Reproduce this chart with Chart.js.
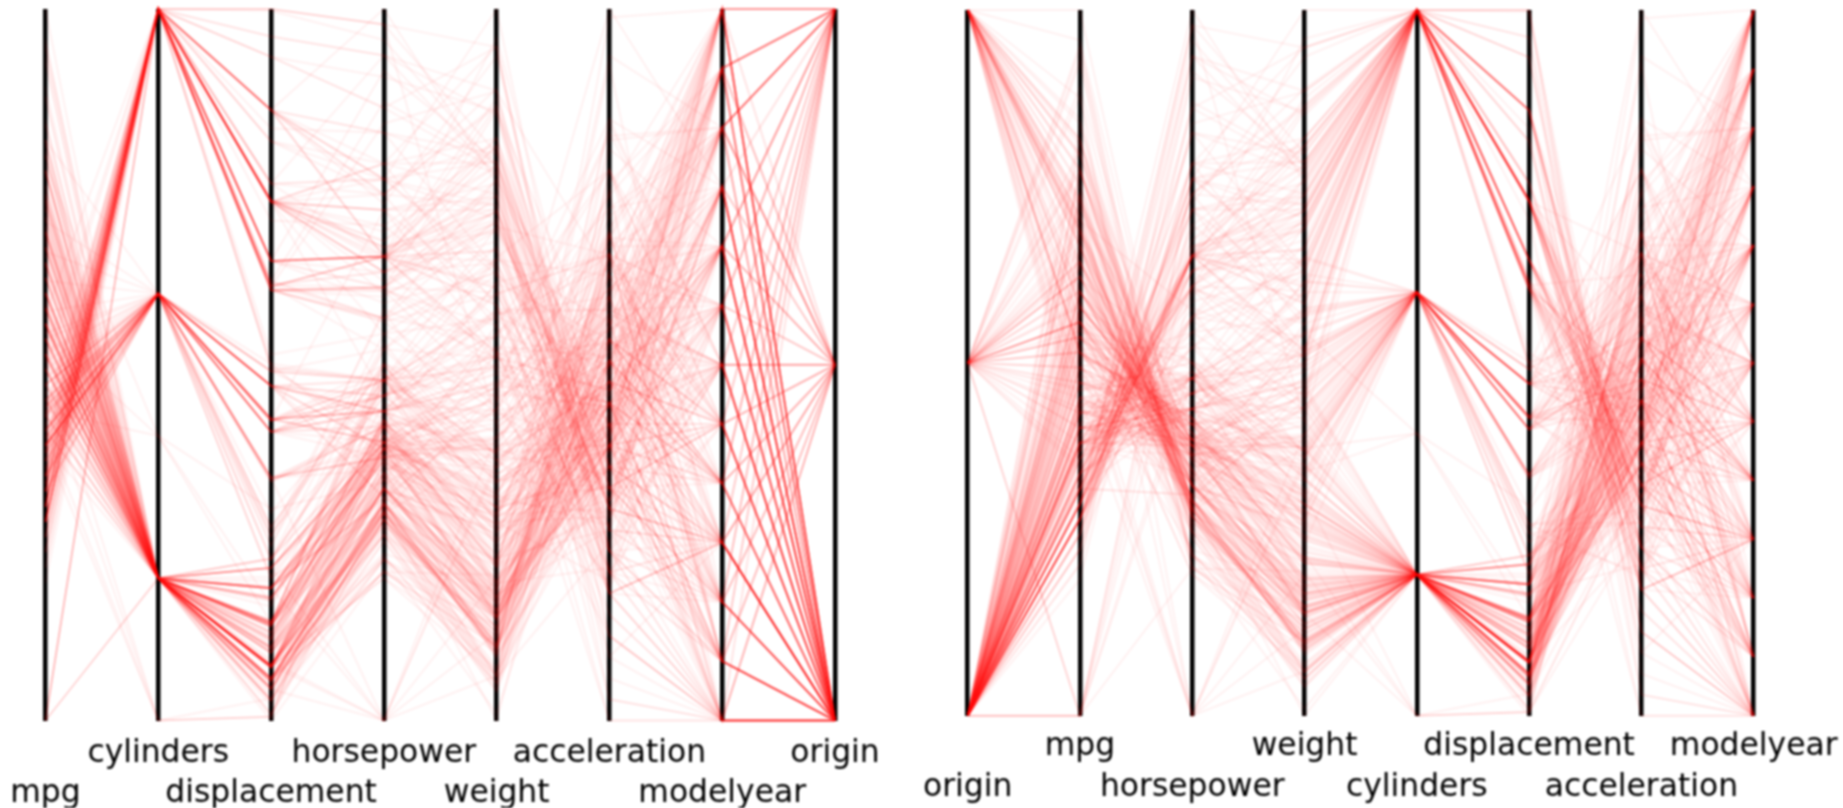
<!DOCTYPE html>
<html><head><meta charset="utf-8">
<script src="https://cdn.jsdelivr.net/npm/chart.js@4/dist/chart.umd.min.js"></script>
<style>
html,body{margin:0;padding:0;background:#fff;width:1843px;height:808px;overflow:hidden}
.box{position:absolute;top:0;height:808px}
canvas{filter:blur(1px)}
</style></head><body>
<div class="box" style="left:0;width:915px"><canvas id="a"></canvas></div>
<div class="box" style="left:915px;width:928px"><canvas id="b"></canvas></div>
<script>
// columns of every record: mpg, cylinders, displacement, horsepower, weight, acceleration, modelyear, origin
// a missing mpg or horsepower sits at 0, at the foot of its axis, as in the reference
const columns=['mpg','cylinders','displacement','horsepower','weight','acceleration','modelyear','origin'];
const leftAxes=['mpg','cylinders','displacement','horsepower','weight','acceleration','modelyear','origin'];
const rightAxes=['origin','mpg','horsepower','weight','cylinders','displacement','acceleration','modelyear'];
const cars70=[[18,8,307,130,3504,12,70,1],[15,8,350,165,3693,11.5,70,1],[18,8,318,150,3436,11,70,1],[16,8,304,150,3433,12,70,1],[17,8,302,140,3449,10.5,70,1],[15,8,429,198,4341,10,70,1],[14,8,454,220,4354,9,70,1],[14,8,440,215,4312,8.5,70,1],[14,8,455,225,4425,10,70,1],[15,8,390,190,3850,8.5,70,1],[0,4,133,115,3090,17.5,70,2],[0,8,350,165,4142,11.5,70,1],[0,8,351,153,4034,11,70,1],[0,8,383,175,4166,10.5,70,1],[0,8,360,175,3850,11,70,1],[15,8,383,170,3563,10,70,1],[14,8,340,160,3609,8,70,1],[0,8,302,140,3353,8,70,1],[15,8,400,150,3761,9.5,70,1],[14,8,455,225,3086,10,70,1],[24,4,113,95,2372,15,70,3],[22,6,198,95,2833,15.5,70,1],[18,6,199,97,2774,15.5,70,1],[21,6,200,85,2587,16,70,1],[27,4,97,88,2130,14.5,70,3],[26,4,97,46,1835,20.5,70,2],[25,4,110,87,2672,17.5,70,2],[24,4,107,90,2430,14.5,70,2],[25,4,104,95,2375,17.5,70,2],[26,4,121,113,2234,12.5,70,2],[21,6,199,90,2648,15,70,1],[10,8,360,215,4615,14,70,1],[10,8,307,200,4376,15,70,1],[11,8,318,210,4382,13.5,70,1],[9,8,304,193,4732,18.5,70,1]];
const cars71=[[27,4,97,88,2130,14.5,71,3],[28,4,140,90,2264,15.5,71,1],[25,4,113,95,2228,14,71,3],[25,4,98,0,2046,19,71,1],[0,4,97,48,1978,20,71,2],[19,6,232,100,2634,13,71,1],[16,6,225,105,3439,15.5,71,1],[17,6,250,100,3329,15.5,71,1],[19,6,250,88,3302,15.5,71,1],[18,6,232,100,3288,15.5,71,1],[14,8,350,165,4209,12,71,1],[14,8,400,175,4464,11.5,71,1],[14,8,351,153,4154,13.5,71,1],[14,8,318,150,4096,13,71,1],[12,8,383,180,4955,11.5,71,1],[13,8,400,170,4746,12,71,1],[13,8,400,175,5140,12,71,1],[18,6,258,110,2962,13.5,71,1],[22,4,140,72,2408,19,71,1],[19,6,250,100,3282,15,71,1],[18,6,250,88,3139,14.5,71,1],[23,4,122,86,2220,14,71,1],[28,4,116,90,2123,14,71,2],[30,4,79,70,2074,19.5,71,2],[30,4,88,76,2065,14.5,71,2],[31,4,71,65,1773,19,71,3],[35,4,72,69,1613,18,71,3],[27,4,97,60,1834,19,71,2],[26,4,91,70,1955,20.5,71,1]];
const cars72=[[24,4,113,95,2278,15.5,72,3],[25,4,97.5,80,2126,17,72,1],[23,4,97,54,2254,23.5,72,2],[20,4,140,90,2408,19.5,72,1],[21,4,122,86,2226,16.5,72,1],[13,8,350,165,4274,12,72,1],[14,8,400,175,4385,12,72,1],[15,8,318,150,4135,13.5,72,1],[14,8,351,153,4129,13,72,1],[17,8,304,150,3672,11.5,72,1],[11,8,429,208,4633,11,72,1],[13,8,350,155,4502,13.5,72,1],[12,8,350,160,4456,13.5,72,1],[13,8,400,190,4422,12.5,72,1],[19,3,70,97,2330,13.5,72,3],[15,8,304,150,3892,12.5,72,1],[13,8,307,130,4098,14,72,1],[13,8,302,140,4294,16,72,1],[14,8,318,150,4077,14,72,1],[18,4,121,112,2933,14.5,72,2],[22,4,121,76,2511,18,72,2],[21,4,120,87,2979,19.5,72,2],[26,4,96,69,2189,18,72,2],[22,4,122,86,2395,16,72,1],[28,4,97,92,2288,17,72,3],[23,4,120,97,2506,14.5,72,3],[28,4,98,80,2164,15,72,1],[27,4,97,88,2100,16.5,72,3]];
const cars73=[[13,8,350,175,4100,13,73,1],[14,8,304,150,3672,11.5,73,1],[13,8,350,145,3988,13,73,1],[14,8,302,137,4042,14.5,73,1],[15,8,318,150,3777,12.5,73,1],[12,8,429,198,4952,11.5,73,1],[13,8,400,150,4464,12,73,1],[13,8,351,158,4363,13,73,1],[14,8,318,150,4237,14.5,73,1],[13,8,440,215,4735,11,73,1],[12,8,455,225,4951,11,73,1],[13,8,360,175,3821,11,73,1],[18,6,225,105,3121,16.5,73,1],[16,6,250,100,3278,18,73,1],[18,6,232,100,2945,16,73,1],[18,6,250,88,3021,16.5,73,1],[23,6,198,95,2904,16,73,1],[26,4,97,46,1950,21,73,2],[11,8,400,150,4997,14,73,1],[12,8,400,167,4906,12.5,73,1],[13,8,360,170,4654,13,73,1],[12,8,350,180,4499,12.5,73,1],[18,6,232,100,2789,15,73,1],[20,4,97,88,2279,19,73,3],[21,4,140,72,2401,19.5,73,1],[22,4,108,94,2379,16.5,73,3],[18,3,70,90,2124,13.5,73,3],[19,4,122,85,2310,18.5,73,1],[21,6,155,107,2472,14,73,1],[26,4,98,90,2265,15.5,73,2],[15,8,350,145,4082,13,73,1],[16,8,400,230,4278,9.5,73,1],[29,4,68,49,1867,19.5,73,2],[24,4,116,75,2158,15.5,73,2],[20,4,114,91,2582,14,73,2],[19,4,121,112,2868,15.5,73,2],[15,8,318,150,3399,11,73,1],[24,4,121,110,2660,14,73,2],[20,6,156,122,2807,13.5,73,3],[11,8,350,180,3664,11,73,1]];
const cars74=[[20,6,198,95,3102,16.5,74,1],[21,6,200,0,2875,17,74,1],[19,6,232,100,2901,16,74,1],[15,6,250,100,3336,17,74,1],[31,4,79,67,1950,19,74,3],[26,4,122,80,2451,16.5,74,1],[32,4,71,65,1836,21,74,3],[25,4,140,75,2542,17,74,1],[16,6,250,100,3781,17,74,1],[16,6,258,110,3632,18,74,1],[18,6,225,105,3613,16.5,74,1],[16,8,302,140,4141,14,74,1],[13,8,350,150,4699,14.5,74,1],[14,8,318,150,4457,13.5,74,1],[14,8,302,140,4638,16,74,1],[14,8,304,150,4257,15.5,74,1],[29,4,98,83,2219,16.5,74,2],[26,4,79,67,1963,15.5,74,2],[26,4,97,78,2300,14.5,74,2],[31,4,76,52,1649,16.5,74,3],[32,4,83,61,2003,19,74,3],[28,4,90,75,2125,14.5,74,1],[24,4,90,75,2108,15.5,74,2],[26,4,116,75,2246,14,74,2],[24,4,120,97,2489,15,74,3],[26,4,108,93,2391,15.5,74,3],[31,4,79,67,2000,16,74,2]];
const cars75=[[19,6,225,95,3264,16,75,1],[18,6,250,105,3459,16,75,1],[15,6,250,72,3432,21,75,1],[15,6,250,72,3158,19.5,75,1],[16,8,400,170,4668,11.5,75,1],[15,8,350,145,4440,14,75,1],[16,8,318,150,4498,14.5,75,1],[14,8,351,148,4657,13.5,75,1],[17,6,231,110,3907,21,75,1],[16,6,250,105,3897,18.5,75,1],[15,6,258,110,3730,19,75,1],[18,6,225,95,3785,19,75,1],[21,6,231,110,3039,15,75,1],[20,8,262,110,3221,13.5,75,1],[13,8,302,129,3169,12,75,1],[29,4,97,75,2171,16,75,3],[23,4,140,83,2639,17,75,1],[20,6,232,100,2914,16,75,1],[23,4,140,78,2592,18.5,75,1],[24,4,134,96,2702,13.5,75,3],[25,4,90,71,2223,16.5,75,2],[24,4,119,97,2545,17,75,3],[18,6,171,97,2984,14.5,75,1],[29,4,90,70,1937,14,75,2],[19,6,232,90,3211,17,75,1],[23,4,115,95,2694,15,75,2],[23,4,120,88,2957,17,75,2],[22,4,121,98,2945,14.5,75,2],[25,4,121,115,2671,13.5,75,2],[33,4,91,53,1795,17.5,75,3]];
const cars76=[[28,4,107,86,2464,15.5,76,2],[25,4,116,81,2220,16.9,76,2],[25,4,140,92,2572,14.9,76,1],[26,4,98,79,2255,17.7,76,1],[27,4,101,83,2202,15.3,76,2],[17.5,8,305,140,4215,13,76,1],[16,8,318,150,4190,13,76,1],[15.5,8,304,120,3962,13.9,76,1],[14.5,8,351,152,4215,12.8,76,1],[22,6,225,100,3233,15.4,76,1],[22,6,250,105,3353,14.5,76,1],[24,6,200,81,3012,17.6,76,1],[22.5,6,232,90,3085,17.6,76,1],[29,4,85,52,2035,22.2,76,1],[24.5,4,98,60,2164,22.1,76,1],[29,4,90,70,1937,14.2,76,2],[33,4,91,53,1795,17.4,76,3],[20,6,225,100,3651,17.7,76,1],[18,6,250,78,3574,21,76,1],[18.5,6,250,110,3645,16.2,76,1],[17.5,6,258,95,3193,17.8,76,1],[29.5,4,97,71,1825,12.2,76,2],[32,4,85,70,1990,17,76,3],[28,4,97,75,2155,16.4,76,3],[26.5,4,140,72,2565,13.6,76,1],[20,4,130,102,3150,15.7,76,2],[13,8,318,150,3940,13.2,76,1],[19,4,120,88,3270,21.9,76,2],[19,6,156,108,2930,15.5,76,3],[16.5,6,168,120,3820,16.7,76,2],[16.5,8,350,180,4380,12.1,76,1],[13,8,350,145,4055,12,76,1],[13,8,302,130,3870,15,76,1],[13,8,318,150,3755,14,76,1]];
const cars77=[[31.5,4,98,68,2045,18.5,77,3],[30,4,111,80,2155,14.8,77,1],[36,4,79,58,1825,18.6,77,2],[25.5,4,122,96,2300,15.5,77,1],[33.5,4,85,70,1945,16.8,77,3],[17.5,8,305,145,3880,12.5,77,1],[17,8,260,110,4060,19,77,1],[15.5,8,318,145,4140,13.7,77,1],[15,8,302,130,4295,14.9,77,1],[17.5,6,250,110,3520,16.4,77,1],[20.5,6,231,105,3425,16.9,77,1],[19,6,225,100,3630,17.7,77,1],[18.5,6,250,98,3525,19,77,1],[16,8,400,180,4220,11.1,77,1],[15.5,8,350,170,4165,11.4,77,1],[15.5,8,400,190,4325,12.2,77,1],[16,8,351,149,4335,14.5,77,1],[29,4,97,78,1940,14.5,77,2],[24.5,4,151,88,2740,16,77,1],[26,4,97,75,2265,18.2,77,3],[25.5,4,140,89,2755,15.8,77,1],[30.5,4,98,63,2051,17,77,1],[33.5,4,98,83,2075,15.9,77,1],[30,4,97,67,1985,16.4,77,3],[30.5,4,97,78,2190,14.1,77,2],[22,6,146,97,2815,14.5,77,3],[21.5,4,121,110,2600,12.8,77,2],[21.5,3,80,110,2720,13.5,77,3]];
const cars78=[[43.1,4,90,48,1985,21.5,78,2],[36.1,4,98,66,1800,14.4,78,1],[32.8,4,78,52,1985,19.4,78,3],[39.4,4,85,70,2070,18.6,78,3],[36.1,4,91,60,1800,16.4,78,3],[19.9,8,260,110,3365,15.5,78,1],[19.4,8,318,140,3735,13.2,78,1],[20.2,8,302,139,3570,12.8,78,1],[19.2,6,231,105,3535,19.2,78,1],[20.5,6,200,95,3155,18.2,78,1],[20.2,6,200,85,2965,15.8,78,1],[25.1,4,140,88,2720,15.4,78,1],[20.5,6,225,100,3430,17.2,78,1],[19.4,6,232,90,3210,17.2,78,1],[20.6,6,231,105,3380,15.8,78,1],[20.8,6,200,85,3070,16.7,78,1],[18.6,6,225,110,3620,18.7,78,1],[18.1,6,258,120,3410,15.1,78,1],[19.2,8,305,145,3425,13.2,78,1],[17.7,6,231,165,3445,13.4,78,1],[18.1,8,302,139,3205,11.2,78,1],[17.5,8,318,140,4080,13.7,78,1],[30,4,98,68,2155,16.5,78,1],[27.5,4,134,95,2560,14.2,78,3],[27.2,4,119,97,2300,14.7,78,3],[30.9,4,105,75,2230,14.5,78,1],[21.1,4,134,95,2515,14.8,78,3],[23.2,4,156,105,2745,16.7,78,1],[23.8,4,151,85,2855,17.6,78,1],[23.9,4,119,97,2405,14.9,78,3],[20.3,5,131,103,2830,15.9,78,2],[17,6,163,125,3140,13.6,78,2],[21.6,4,121,115,2795,15.7,78,2],[16.2,6,163,133,3410,15.8,78,2],[31.5,4,89,71,1990,14.9,78,2],[29.5,4,98,68,2135,16.6,78,3]];
const cars79=[[21.5,6,231,115,3245,15.4,79,1],[19.8,6,200,85,2990,18.2,79,1],[22.3,4,140,88,2890,17.3,79,1],[20.2,6,232,90,3265,18.2,79,1],[20.6,6,225,110,3360,16.6,79,1],[17,8,305,130,3840,15.4,79,1],[17.6,8,302,129,3725,13.4,79,1],[16.5,8,351,138,3955,13.2,79,1],[18.2,8,318,135,3830,15.2,79,1],[16.9,8,350,155,4360,14.9,79,1],[15.5,8,351,142,4054,14.3,79,1],[19.2,8,267,125,3605,15,79,1],[18.5,8,360,150,3940,13,79,1],[31.9,4,89,71,1925,14,79,2],[34.1,4,86,65,1975,15.2,79,3],[35.7,4,98,80,1915,14.4,79,1],[27.4,4,121,80,2670,15,79,1],[25.4,5,183,77,3530,20.1,79,2],[23,8,350,125,3900,17.4,79,1],[27.2,4,141,71,3190,24.8,79,2],[23.9,8,260,90,3420,22.2,79,1],[34.2,4,105,70,2200,13.2,79,1],[34.5,4,105,70,2150,14.9,79,1],[31.8,4,85,65,2020,19.2,79,3],[37.3,4,91,69,2130,14.7,79,2],[28.4,4,151,90,2670,16,79,1],[28.8,6,173,115,2595,11.3,79,1],[26.8,6,173,115,2700,12.9,79,1],[33.5,4,151,90,2556,13.2,79,1]];
const cars80=[[41.5,4,98,76,2144,14.7,80,2],[38.1,4,89,60,1968,18.8,80,3],[32.1,4,98,70,2120,15.5,80,1],[37.2,4,86,65,2019,16.4,80,3],[28,4,151,90,2678,16.5,80,1],[26.4,4,140,88,2870,18.1,80,1],[24.3,4,151,90,3003,20.1,80,1],[19.1,6,225,90,3381,18.7,80,1],[34.3,4,97,78,2188,15.8,80,2],[29.8,4,134,90,2711,15.5,80,3],[31.3,4,120,75,2542,17.5,80,3],[37,4,119,92,2434,15,80,3],[32.2,4,108,75,2265,15.2,80,3],[46.6,4,86,65,2110,17.9,80,3],[27.9,4,156,105,2800,14.4,80,1],[40.8,4,85,65,2110,19.2,80,3],[44.3,4,90,48,2085,21.7,80,2],[43.4,4,90,48,2335,23.7,80,2],[36.4,5,121,67,2950,19.9,80,2],[30,4,146,67,3250,21.8,80,2],[44.6,4,91,67,1850,13.8,80,3],[40.9,4,85,0,1835,17.3,80,2],[33.8,4,97,67,2145,18,80,3],[29.8,4,89,62,1845,15.3,80,2],[32.7,6,168,132,2910,11.4,80,3],[23.7,3,70,100,2420,12.5,80,3],[35,4,122,88,2500,15.1,80,2],[23.6,4,140,0,2905,14.3,80,1],[32.4,4,107,72,2290,17,80,3]];
const cars81=[[27.2,4,135,84,2490,15.7,81,1],[26.6,4,151,84,2635,16.4,81,1],[25.8,4,156,92,2620,14.4,81,1],[23.5,6,173,110,2725,12.6,81,1],[30,4,135,84,2385,12.9,81,1],[39.1,4,79,58,1755,16.9,81,3],[39,4,86,64,1875,16.4,81,1],[35.1,4,81,60,1760,16.1,81,3],[32.3,4,97,67,2065,17.8,81,3],[37,4,85,65,1975,19.4,81,3],[37.7,4,89,62,2050,17.3,81,3],[34.1,4,91,68,1985,16,81,3],[34.7,4,105,63,2215,14.9,81,1],[34.4,4,98,65,2045,16.2,81,1],[29.9,4,98,65,2380,20.7,81,1],[33,4,105,74,2190,14.2,81,2],[34.5,4,100,0,2320,15.8,81,2],[33.7,4,107,75,2210,14.4,81,3],[32.4,4,108,75,2350,16.8,81,3],[32.9,4,119,100,2615,14.8,81,3],[31.6,4,120,74,2635,18.3,81,3],[28.1,4,141,80,3230,20.4,81,2],[0,4,121,110,2800,15.4,81,2],[30.7,6,145,76,3160,19.6,81,2],[25.4,6,168,116,2900,12.6,81,3],[24.2,6,146,120,2930,13.8,81,3],[22.4,6,231,110,3415,15.8,81,1],[26.6,8,350,105,3725,19,81,1],[20.2,6,200,88,3060,17.1,81,1],[17.6,6,225,85,3465,16.6,81,1]];
const cars82=[[28,4,112,88,2605,19.6,82,1],[27,4,112,88,2640,18.6,82,1],[34,4,112,88,2395,18,82,1],[31,4,112,85,2575,16.2,82,1],[29,4,135,84,2525,16,82,1],[27,4,151,90,2735,18,82,1],[24,4,140,92,2865,16.4,82,1],[23,4,151,0,3035,20.5,82,1],[36,4,105,74,1980,15.3,82,2],[37,4,91,68,2025,18.2,82,3],[31,4,91,68,1970,17.6,82,3],[38,4,105,63,2125,14.7,82,1],[36,4,98,70,2125,17.3,82,1],[36,4,120,88,2160,14.5,82,3],[36,4,107,75,2205,14.5,82,3],[34,4,108,70,2245,16.9,82,3],[38,4,91,67,1965,15,82,3],[32,4,91,67,1965,15.7,82,3],[38,4,91,67,1995,16.2,82,3],[25,6,181,110,2945,16.4,82,1],[38,6,262,85,3015,17,82,1],[26,4,156,92,2585,14.5,82,1],[22,6,232,112,2835,14.7,82,1],[32,4,144,96,2665,13.9,82,3],[36,4,135,84,2370,13,82,1],[27,4,151,90,2950,17.3,82,1],[27,4,140,86,2790,15.6,82,1],[44,4,97,52,2130,24.6,82,2],[32,4,135,84,2295,11.6,82,1],[28,4,120,79,2625,18.6,82,1],[31,4,119,82,2720,19.4,82,1]];
const cars=[].concat(cars70,cars71,cars72,cars73,cars74,cars75,cars76,cars77,cars78,cars79,cars80,cars81,cars82);

const lo=columns.map((_,i)=>Math.min(...cars.map(r=>r[i])));
const hi=columns.map((_,i)=>Math.max(...cars.map(r=>r[i])));
function makeChart(id,axes,pad,bandHeight,tickPad){
  const idx=axes.map(n=>columns.indexOf(n));
  new Chart(document.getElementById(id),{
    type:'line',
    data:{labels:axes,datasets:cars.map(r=>({
      data:idx.map(i=>(r[i]-lo[i])/(hi[i]-lo[i])),
      borderColor:'rgba(255,0,0,0.06)',borderWidth:2,pointRadius:0,tension:0,clip:false,fill:false
    }))},
    options:{
      responsive:true,maintainAspectRatio:false,animation:false,events:[],
      layout:{padding:pad},
      plugins:{legend:{display:false},tooltip:{enabled:false}},
      scales:{
        x:{type:'category',offset:false,
          afterFit:s=>{s.height=bandHeight;s.paddingLeft=0;s.paddingRight=0;},
          grid:{display:true,color:'#000',lineWidth:4.5,drawTicks:false},
          border:{display:false},
          ticks:{autoSkip:false,maxRotation:0,minRotation:0,padding:tickPad,color:'#000',
            font:{family:'"DejaVu Sans"',size:31.4,lineHeight:1.29},
            callback(v,i){const t=axes[i];return i%2?[t,' ']:[' ',t];}}
        },
        y:{display:false,min:0,max:1}
      }
    }
  });
}
makeChart('a',leftAxes,{left:45.5,right:80,top:9,bottom:0},87.5,13);
makeChart('b',rightAxes,{left:52.7,right:89.3,top:10,bottom:0},92.3,11);
</script>
</body></html>
